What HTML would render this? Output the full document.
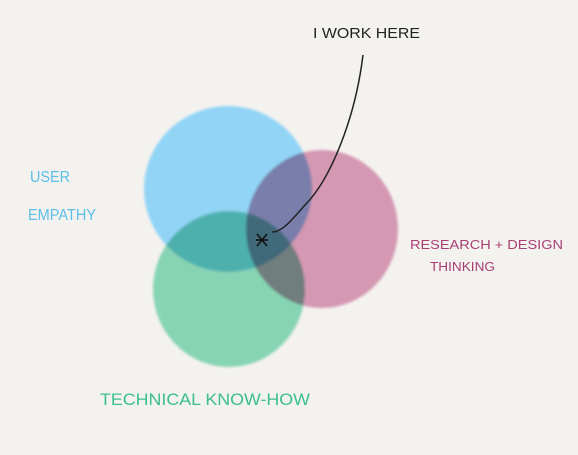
<!DOCTYPE html>
<html><head><style>
body{margin:0;width:578px;height:455px;background:#f4f2ef;overflow:hidden;font-family:"Liberation Sans",sans-serif}
</style></head><body>
<svg width="578" height="455" style="position:absolute;left:0;top:0">
<defs><filter id="b"><feGaussianBlur stdDeviation="1.2"/></filter></defs>
<g filter="url(#b)" style="isolation:isolate">
<ellipse cx="228" cy="189" rx="84" ry="83" fill="rgb(145,212,245)" style="mix-blend-mode:multiply"/>
<ellipse cx="322" cy="229" rx="76" ry="79" fill="rgb(212,152,178)" style="mix-blend-mode:multiply"/>
<ellipse cx="229" cy="289" rx="76" ry="78" fill="rgb(135,212,180)" style="mix-blend-mode:multiply"/>
</g>
<path d="M363 55 C 355 120, 330 180, 305 205 C 290 222, 282 232, 272 232" fill="none" stroke="#222" stroke-width="1.5"/>
<g stroke="#111" stroke-width="1.6">
<line x1="257" y1="234" x2="267" y2="246"/><line x1="267" y1="234" x2="257" y2="246"/><line x1="256" y1="240" x2="268" y2="240"/>
</g>
<text x="313" y="38" font-size="15" fill="#222" textLength="107" lengthAdjust="spacingAndGlyphs">I WORK HERE</text>
<text x="30" y="182" font-size="16" fill="#5bbfea" textLength="40" lengthAdjust="spacingAndGlyphs">USER</text>
<text x="28" y="220" font-size="16" fill="#5bbfea" textLength="68" lengthAdjust="spacingAndGlyphs">EMPATHY</text>
<text x="410" y="249" font-size="13" fill="#a83f74" textLength="153" lengthAdjust="spacingAndGlyphs">RESEARCH + DESIGN</text>
<text x="430" y="271" font-size="13" fill="#a83f74" textLength="65" lengthAdjust="spacingAndGlyphs">THINKING</text>
<text x="100" y="405" font-size="17" fill="#3cbf8c" textLength="210" lengthAdjust="spacingAndGlyphs">TECHNICAL KNOW-HOW</text>
</svg>
</body></html>
